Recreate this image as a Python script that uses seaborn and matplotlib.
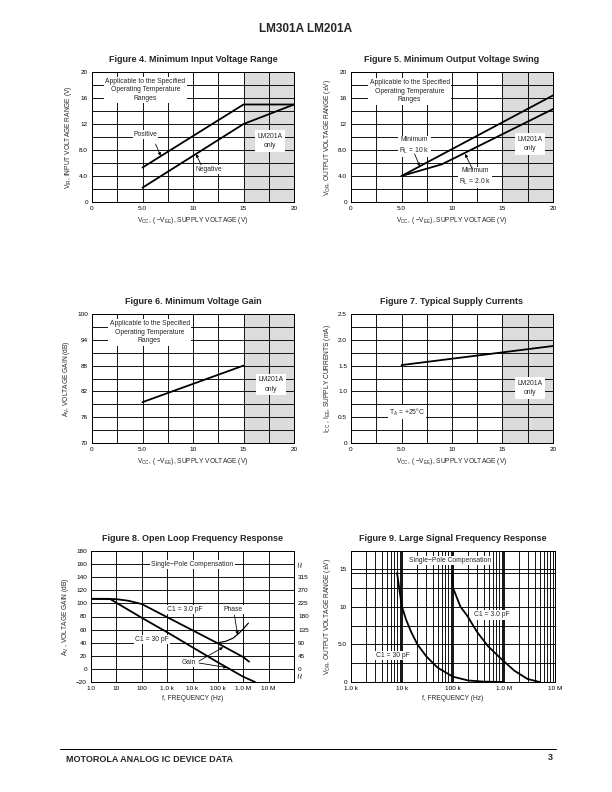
import numpy as np
import pandas as pd
import matplotlib
matplotlib.use("Agg")
import matplotlib.pyplot as plt
from matplotlib.lines import Line2D
import seaborn as sns

# ---------------- data ----------------
# Figure 4
f4_vcc = [5, 15, 20]
f4_pos = [5.3, 15.0, 15.0]
f4_neg = [2.2, 12.0, 15.0]
# Figure 5
f5_vcc_10k = [5, 20]
f5_rl10k = [4.0, 16.4]
f5_vcc_2k = [5, 9, 20]
f5_rl2k = [4.0, 5.8, 14.3]
# Figure 6
f6_vcc = [5, 15]
f6_gain = [79.5, 88.0]
# Figure 7
f7_vcc = [5, 20]
f7_icc = [1.51, 1.88]
# Figure 8
f8_freq_3pf = [1, 10, 30, 100, 1e3, 1e4, 1e5, 1e6, 1.7e6]
f8_gain_3pf = [107, 106.5, 104, 99, 79, 59, 39, 18, 11]
f8_freq_30pf = [1, 5.5, 10, 100, 1e3, 1e4, 1e5, 1e6, 2.9e6]
f8_gain_30pf = [107, 107, 101, 78, 56, 33, 10, -12, -20]
f8_freq_phase = [1e5, 2e5, 4e5, 7e5, 1e6, 1.6e6]
f8_phase_db = [40, 42, 47, 55, 61, 70]
f8_xticks = [1, 10, 100, 1e3, 1e4, 1e5, 1e6, 1e7, 1e8]
f8_xticklabels = ["1.0", "10", "100", "1.0 k", "10 k", "100 k", "1.0 M", "10 M", ""]
f8_phase_ticks = [0, 45, 90, 135, 180, 225, 270, 315]
# Figure 9
f9_freq_30pf = [8e3, 9e3, 1e4, 1.2e4, 1.5e4, 2e4, 3e4, 5e4, 1e5, 2e5, 4e5, 1e6]
f9_v_30pf = [14.5, 12.0, 10.0, 8.3, 6.7, 5.0, 3.4, 1.9, 0.7, 0.2, 0.05, 0.0]
f9_freq_3pf = [9.6e4, 1e5, 1.4e5, 1.9e5, 3e5, 4.8e5, 8.7e5, 1.6e6, 2.9e6, 5e6]
f9_v_3pf = [14.5, 12.5, 10.0, 8.8, 6.6, 4.8, 3.1, 1.5, 0.4, 0.0]
f9_xticks = [1e3, 1e4, 1e5, 1e6, 1e7]
f9_xticklabels = ["1.0 k", "10 k", "100 k", "1.0 M", "10 M"]

# ---------------- style ----------------
sns.set_theme(style="white")
plt.rcParams['font.family'] = ['Liberation Sans', 'DejaVu Sans']
plt.rcParams['mathtext.fontset'] = 'custom'
plt.rcParams['mathtext.rm'] = 'Liberation Sans'
plt.rcParams['mathtext.it'] = 'Liberation Sans'
plt.rcParams['axes.linewidth'] = 1.0
plt.rcParams['axes.edgecolor'] = 'black'

W, H = 612, 792
fig = plt.figure(figsize=(W / 72, H / 72), dpi=72)

FS = 6.4      # tick labels
FSL = 6.6     # axis labels
FSA = 6.8     # annotations
LW = 1.8
GC = 'black'
GLW = 0.9
BOX = dict(facecolor='white', edgecolor='none', pad=1.0)
BOX2 = dict(facecolor='white', edgecolor='none', pad=2.5)


def make_ax(x0, y0, x1, y1):
    return fig.add_axes([x0 / W, 1 - y1 / H, (x1 - x0) / W, (y1 - y0) / H])


def finish(ax, title, ylabel, xlabel):
    ax.set_title(title, fontsize=9, fontweight='bold', pad=10)
    ax.set_ylabel(ylabel, fontsize=FSL, labelpad=5)
    ax.set_xlabel(xlabel, fontsize=FSL, labelpad=4)
    ax.tick_params(axis='both', length=0, labelsize=FS, pad=4, colors='black')
    for s in ax.spines.values():
        s.set_color('black')
        s.set_linewidth(1.0)


XL_VCC = r"V$_{CC}$, ( −V$_{EE}$), SUPPLY VOLTAGE (V)"


def vcc_axis(ax, ylim, yticks, ytlabels, ygrid):
    ax.axvspan(15, 20, color='#dcdcdc', zorder=0, lw=0)
    for gx in [2.5, 5, 7.5, 10, 12.5, 15, 17.5]:
        ax.axvline(gx, color=GC, lw=GLW, zorder=1)
    for gy in ygrid:
        ax.axhline(gy, color=GC, lw=GLW, zorder=1)
    ax.set_xlim(0, 20)
    ax.set_ylim(*ylim)
    ax.set_xticks([0, 5, 10, 15, 20])
    ax.set_xticklabels(["0", "5.0", "10", "15", "20"])
    ax.set_yticks(yticks)
    ax.set_yticklabels(ytlabels)


def line(ax, x, y):
    sns.lineplot(x=x, y=y, ax=ax, color='black', lw=LW, zorder=4, sort=False)


def arrow(ax, tip, start):
    ax.annotate('', xy=tip, xytext=start, zorder=6,
                arrowprops=dict(arrowstyle='-|>', lw=0.8, color='black',
                                mutation_scale=6, shrinkA=0, shrinkB=0))


def note(ax, x, y, s, box=BOX, ls=1.3):
    ax.text(x, y, s, ha='center', va='center', fontsize=FSA, bbox=box, zorder=5, linespacing=ls)


APPL = "Applicable to the Specified\nOperating Temperature\nRanges"

# ---------------- Figure 4 ----------------
ax4 = make_ax(92, 72, 294, 202)
vcc_axis(ax4, (0, 20), [0, 4, 8, 12, 16, 20], ["0", "4.0", "8.0", "12", "16", "20"],
         [2, 4, 6, 8, 10, 12, 14, 16, 18])
line(ax4, f4_vcc, f4_pos)
line(ax4, f4_vcc, f4_neg)
note(ax4, 5.3, 17.3, APPL)
note(ax4, 17.6, 9.4, "LM201A\nonly", BOX2, 1.5)
note(ax4, 5.3, 10.4, "Positive")
arrow(ax4, (6.8, 7.1), (6.3, 8.9))
note(ax4, 11.6, 5.0, "Negative")
arrow(ax4, (10.3, 7.4), (10.8, 5.7))
finish(ax4, "Figure 4. Minimum Input Voltage Range",
       r"V$_{IR}$, INPUT VOLTAGE RANGE (V)", XL_VCC)

# ---------------- Figure 5 ----------------
ax5 = make_ax(351, 72, 553, 202)
vcc_axis(ax5, (0, 20), [0, 4, 8, 12, 16, 20], ["0", "4.0", "8.0", "12", "16", "20"],
         [2, 4, 6, 8, 10, 12, 14, 16, 18])
line(ax5, f5_vcc_10k, f5_rl10k)
line(ax5, f5_vcc_2k, f5_rl2k)
note(ax5, 5.8, 17.0, APPL)
note(ax5, 17.7, 8.9, "LM201A\nonly", BOX2, 1.5)
note(ax5, 6.3, 8.6, "Minimum\nR$_L$ = 10 k", BOX, 1.4)
arrow(ax5, (6.8, 5.5), (6.3, 7.4))
note(ax5, 12.3, 3.9, "Minimum\nR$_L$ = 2.0 k", BOX, 1.4)
arrow(ax5, (11.3, 7.4), (12.0, 5.1))
finish(ax5, "Figure 5. Minimum Output Voltage Swing",
       r"V$_{OR}$, OUTPUT VOLTAGE RANGE (±V)", XL_VCC)

# ---------------- Figure 6 ----------------
ax6 = make_ax(92, 314, 294, 443)
vcc_axis(ax6, (70, 100), [70, 76, 82, 88, 94, 100], ["70", "76", "82", "88", "94", "100"],
         [73, 76, 79, 82, 85, 88, 91, 94, 97])
line(ax6, f6_vcc, f6_gain)
note(ax6, 5.7, 95.7, APPL)
note(ax6, 17.7, 83.6, "LM201A\nonly", BOX2, 1.5)
finish(ax6, "Figure 6. Minimum Voltage Gain",
       r"A$_V$, VOLTAGE GAIN (dB)", XL_VCC)

# ---------------- Figure 7 ----------------
ax7 = make_ax(351, 314, 553, 443)
vcc_axis(ax7, (0, 2.5), [0, 0.5, 1.0, 1.5, 2.0, 2.5], ["0", "0.5", "1.0", "1.5", "2.0", "2.5"],
         [0.25, 0.5, 0.75, 1.0, 1.25, 1.5, 1.75, 2.0, 2.25])
line(ax7, f7_vcc, f7_icc)
note(ax7, 5.5, 0.6, "T$_A$ = +25°C")
note(ax7, 17.7, 1.07, "LM201A\nonly", BOX2, 1.5)
finish(ax7, "Figure 7. Typical Supply Currents",
       r"I$_{CC}$ , I$_{EE}$, SUPPLY CURRENTS (mA)", XL_VCC)

# ---------------- Figure 8 ----------------
ax8 = make_ax(91, 551, 294, 682)
ax8.set_xscale('log')
ax8.set_xlim(1, 1e8)
ax8.set_ylim(-20, 180)
for gx in f8_xticks[1:-1]:
    ax8.axvline(gx, color=GC, lw=GLW, zorder=1)
for gy in range(0, 180, 20):
    ax8.axhline(gy, color=GC, lw=GLW, zorder=1)
line(ax8, f8_freq_3pf, f8_gain_3pf)
line(ax8, f8_freq_30pf, f8_gain_30pf)
sns.lineplot(x=f8_freq_phase, y=f8_phase_db, ax=ax8, color='black', lw=1.2, zorder=4)
ax8.set_xticks(f8_xticks)
ax8.set_xticklabels(f8_xticklabels)
ax8.xaxis.set_minor_locator(matplotlib.ticker.NullLocator())
ax8.set_yticks(list(range(-20, 181, 20)))
ax8.set_yticklabels([str(v).replace('-', '−') for v in range(-20, 181, 20)])
note(ax8, 1e4, 160, "Single−Pole Compensation")
note(ax8, 5e3, 90, "C1 = 3.0 pF")
note(ax8, 2.5e2, 45, "C1 = 30 pF")
note(ax8, 4e5, 90, "Phase")
arrow(ax8, (6e5, 52), (4.5e5, 82))
note(ax8, 7e3, 10, "Gain")
arrow(ax8, (1.6e5, 33), (1.8e4, 12))
arrow(ax8, (2.3e5, 2), (1.8e4, 9))
finish(ax8, "Figure 8. Open Loop Frequency Response",
       r"A$_V$ , VOLTAGE GAIN (dB)", "f, FREQUENCY (Hz)")
ax8r = ax8.twinx()
ax8r.set_ylim(-20, 180)
ax8r.set_yticks(list(range(0, 141, 20)))
ax8r.set_yticklabels([str(v) for v in f8_phase_ticks])
ax8r.tick_params(axis='y', length=0, labelsize=FS, pad=4, colors='black')
for s in ax8r.spines.values():
    s.set_visible(False)
for yb in [160, -10]:
    ax8.text(1.008, (yb + 20) / 200, "≈", transform=ax8.transAxes, rotation=90,
             ha='left', va='center', fontsize=10)

# ---------------- Figure 9 ----------------
ax9 = make_ax(351, 551, 555, 682)
ax9.set_xscale('log')
ax9.set_xlim(1e3, 1e7)
ax9.set_ylim(0, 17.4)
for dec in [1e3, 1e4, 1e5, 1e6]:
    for m in range(2, 10):
        ax9.axvline(dec * m, color=GC, lw=GLW, zorder=1)
for gx in [1e4, 1e5, 1e6]:
    ax9.axvline(gx, color=GC, lw=1.8, zorder=1)
for gy in [2.5, 5, 7.5, 10, 12.5, 14.5, 15]:
    ax9.axhline(gy, color=GC, lw=GLW, zorder=1)
line(ax9, f9_freq_30pf, f9_v_30pf)
line(ax9, f9_freq_3pf, f9_v_3pf)
ax9.set_xticks(f9_xticks)
ax9.set_xticklabels(f9_xticklabels)
ax9.xaxis.set_minor_locator(matplotlib.ticker.NullLocator())
ax9.set_yticks([0, 5, 10, 15])
ax9.set_yticklabels(["0", "5.0", "10", "15"])
note(ax9, 8.7e4, 16.2, "Single−Pole Compensation")
note(ax9, 5.7e5, 8.9, "C1 = 3.0 pF")
note(ax9, 6.6e3, 3.5, "C1 = 30 pF")
finish(ax9, "Figure 9. Large Signal Frequency Response",
       r"V$_{OR}$, OUTPUT VOLTAGE RANGE (±V)", "f, FREQUENCY (Hz)")

# ---------------- page header / footer ----------------
fig.text(0.5, 1 - 29 / H, "LM301A LM201A", ha='center', va='center', fontsize=11.8, fontweight='bold')
fig.add_artist(Line2D([60 / W, 556 / W], [1 - 749 / H] * 2, color='black', lw=1.0))
fig.text(66 / W, 1 - 760 / H, "MOTOROLA ANALOG IC DEVICE DATA", ha='left', va='center', fontsize=9, fontweight='bold')
fig.text(553 / W, 1 - 757 / H, "3", ha='right', va='center', fontsize=9, fontweight='bold')

fig.savefig("out.png", dpi=72, facecolor='white')
